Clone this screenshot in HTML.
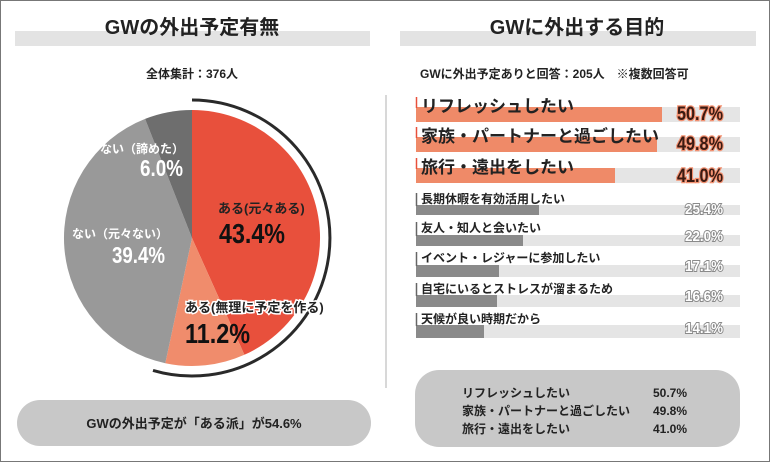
<!DOCTYPE html>
<html><head><meta charset="utf-8"><style>
html,body{margin:0;padding:0;background:#fff}
svg{display:block}
text{font-family:"Liberation Sans","Noto Sans CJK JP",sans-serif;font-weight:bold}
.c{font-family:"Liberation Sans Narrow","Liberation Sans","Noto Sans CJK JP",sans-serif}
</style></head><body>
<svg width="770" height="462" viewBox="0 0 770 462" xmlns="http://www.w3.org/2000/svg">
<rect x="0.5" y="0.5" width="769" height="461" fill="#fff" stroke="#777"/>
<rect x="15" y="31" width="355" height="15" fill="#e3e3e3"/>
<text x="192" y="34" font-size="20" text-anchor="middle" fill="#222">GWの外出予定有無</text>
<text x="192" y="78" font-size="12" text-anchor="middle" fill="#222">全体集計：376人</text>
<rect x="400" y="31" width="356" height="15" fill="#e3e3e3"/>
<text x="577" y="34" font-size="20" text-anchor="middle" fill="#222">GWに外出する目的</text>
<text x="420" y="78" font-size="12" fill="#222">GWに外出予定ありと回答：205人　※複数回答可</text>
<line x1="386" y1="95" x2="386" y2="388" stroke="#ccc" stroke-width="1.5"/>
<g transform="translate(192,238)">
<path d="M0,0 L0,-128 A128,128 0 0 1 52.4,116.8 Z" fill="#e8503c"/>
<path d="M0,0 L52.4,116.8 A128,128 0 0 1 -26.7,125.2 Z" fill="#f08c6c"/>
<path d="M0,0 L-26.7,125.2 A128,128 0 0 1 -46.9,-119.1 Z" fill="#999"/>
<path d="M0,0 L-46.9,-119.1 A128,128 0 0 1 0,-128 Z" fill="#6e6e6e"/>
<path d="M0,-137 A137,137 0 1 1 -38,131.6" fill="none" stroke="#fff" stroke-width="6"/>
<path d="M0,-138 A138,138 0 1 1 -39,132.4" fill="none" stroke="#2a2a2a" stroke-width="3"/>
</g>
<text x="100" y="153" font-size="12" fill="#fff">ない（諦めた）</text>
<text x="140" y="176" font-size="23" fill="#fff" textLength="43" lengthAdjust="spacingAndGlyphs">6.0%</text>
<text x="218" y="213" font-size="13" fill="#222">ある(元々ある)</text>
<text x="219" y="243" font-size="28" fill="#111" textLength="66" lengthAdjust="spacingAndGlyphs">43.4%</text>
<text x="72" y="238" font-size="12" fill="#fff">ない（元々ない）</text>
<text x="112" y="263" font-size="23" fill="#fff" textLength="53" lengthAdjust="spacingAndGlyphs">39.4%</text>
<text x="185" y="312" font-size="13" fill="#222" stroke="#fff" stroke-width="3" paint-order="stroke">ある(無理に予定を作る)</text>
<text x="185" y="343" font-size="28" fill="#111" textLength="65" lengthAdjust="spacingAndGlyphs">11.2%</text>
<rect x="17" y="400" width="354" height="46" rx="23" fill="#c8c8c8"/>
<text x="194" y="428" font-size="13" text-anchor="middle" fill="#222">GWの外出予定が「ある派」が54.6%</text>
<g>
<rect x="416" y="107" width="324" height="15" fill="#e5e5e5"/><rect x="416" y="107" width="246" height="15" fill="#ef8a68"/>
<rect x="416" y="137" width="324" height="15" fill="#e5e5e5"/><rect x="416" y="137" width="241" height="15" fill="#ef8a68"/>
<rect x="416" y="168" width="324" height="15" fill="#e5e5e5"/><rect x="416" y="168" width="199" height="15" fill="#ef8a68"/>
<rect x="416" y="205" width="324" height="10" fill="#e5e5e5"/><rect x="416" y="205" width="123" height="10" fill="#8a8a8a"/>
<rect x="416" y="235" width="324" height="11" fill="#e5e5e5"/><rect x="416" y="235" width="107" height="11" fill="#8a8a8a"/>
<rect x="416" y="265" width="324" height="12" fill="#e5e5e5"/><rect x="416" y="265" width="83" height="12" fill="#8a8a8a"/>
<rect x="416" y="295" width="324" height="12" fill="#e5e5e5"/><rect x="416" y="295" width="81" height="12" fill="#8a8a8a"/>
<rect x="416" y="325" width="324" height="13" fill="#e5e5e5"/><rect x="416" y="325" width="68" height="13" fill="#8a8a8a"/>
</g>
<g stroke-width="1.5">
<line x1="416.5" y1="97" x2="416.5" y2="108" stroke="#e8503c"/>
<line x1="416.5" y1="127" x2="416.5" y2="138" stroke="#e8503c"/>
<line x1="416.5" y1="158" x2="416.5" y2="169" stroke="#e8503c"/>
<line x1="416.5" y1="193" x2="416.5" y2="206" stroke="#666"/>
<line x1="416.5" y1="222" x2="416.5" y2="236" stroke="#666"/>
<line x1="416.5" y1="252" x2="416.5" y2="266" stroke="#666"/>
<line x1="416.5" y1="283" x2="416.5" y2="296" stroke="#666"/>
<line x1="416.5" y1="313" x2="416.5" y2="326" stroke="#666"/>
</g>
<g font-size="17" fill="#222">
<text x="421" y="112">リフレッシュしたい</text>
<text x="421" y="142">家族・パートナーと過ごしたい</text>
<text x="421" y="173">旅行・遠出をしたい</text>
</g>
<g font-size="12" fill="#222">
<text x="421" y="203">長期休暇を有効活用したい</text>
<text x="421" y="232">友人・知人と会いたい</text>
<text x="421" y="262">イベント・レジャーに参加したい</text>
<text x="421" y="293">自宅にいるとストレスが溜まるため</text>
<text x="421" y="323">天候が良い時期だから</text>
</g>
<g font-size="19" fill="#3a1a12" stroke="#f29070" stroke-width="2.5" paint-order="stroke">
<text x="677" y="120" textLength="46" lengthAdjust="spacingAndGlyphs">50.7%</text>
<text x="677" y="150" textLength="46" lengthAdjust="spacingAndGlyphs">49.8%</text>
<text x="677" y="182" textLength="46" lengthAdjust="spacingAndGlyphs">41.0%</text>
</g>
<g font-size="15" fill="#fff" stroke="#8a8a8a" stroke-width="2" paint-order="stroke">
<text x="685" y="214" textLength="38" lengthAdjust="spacingAndGlyphs">25.4%</text>
<text x="685" y="241" textLength="38" lengthAdjust="spacingAndGlyphs">22.0%</text>
<text x="685" y="271" textLength="38" lengthAdjust="spacingAndGlyphs">17.1%</text>
<text x="685" y="301" textLength="38" lengthAdjust="spacingAndGlyphs">16.6%</text>
<text x="685" y="333" textLength="38" lengthAdjust="spacingAndGlyphs">14.1%</text>
</g>
<rect x="415" y="370" width="325" height="77" rx="24" fill="#c8c8c8"/>
<g font-size="12" fill="#222">
<text x="462" y="397">リフレッシュしたい</text>
<text x="462" y="415">家族・パートナーと過ごしたい</text>
<text x="462" y="433">旅行・遠出をしたい</text>
<text x="653" y="397">50.7%</text>
<text x="653" y="415">49.8%</text>
<text x="653" y="433">41.0%</text>
</g>
</svg>
</body></html>
